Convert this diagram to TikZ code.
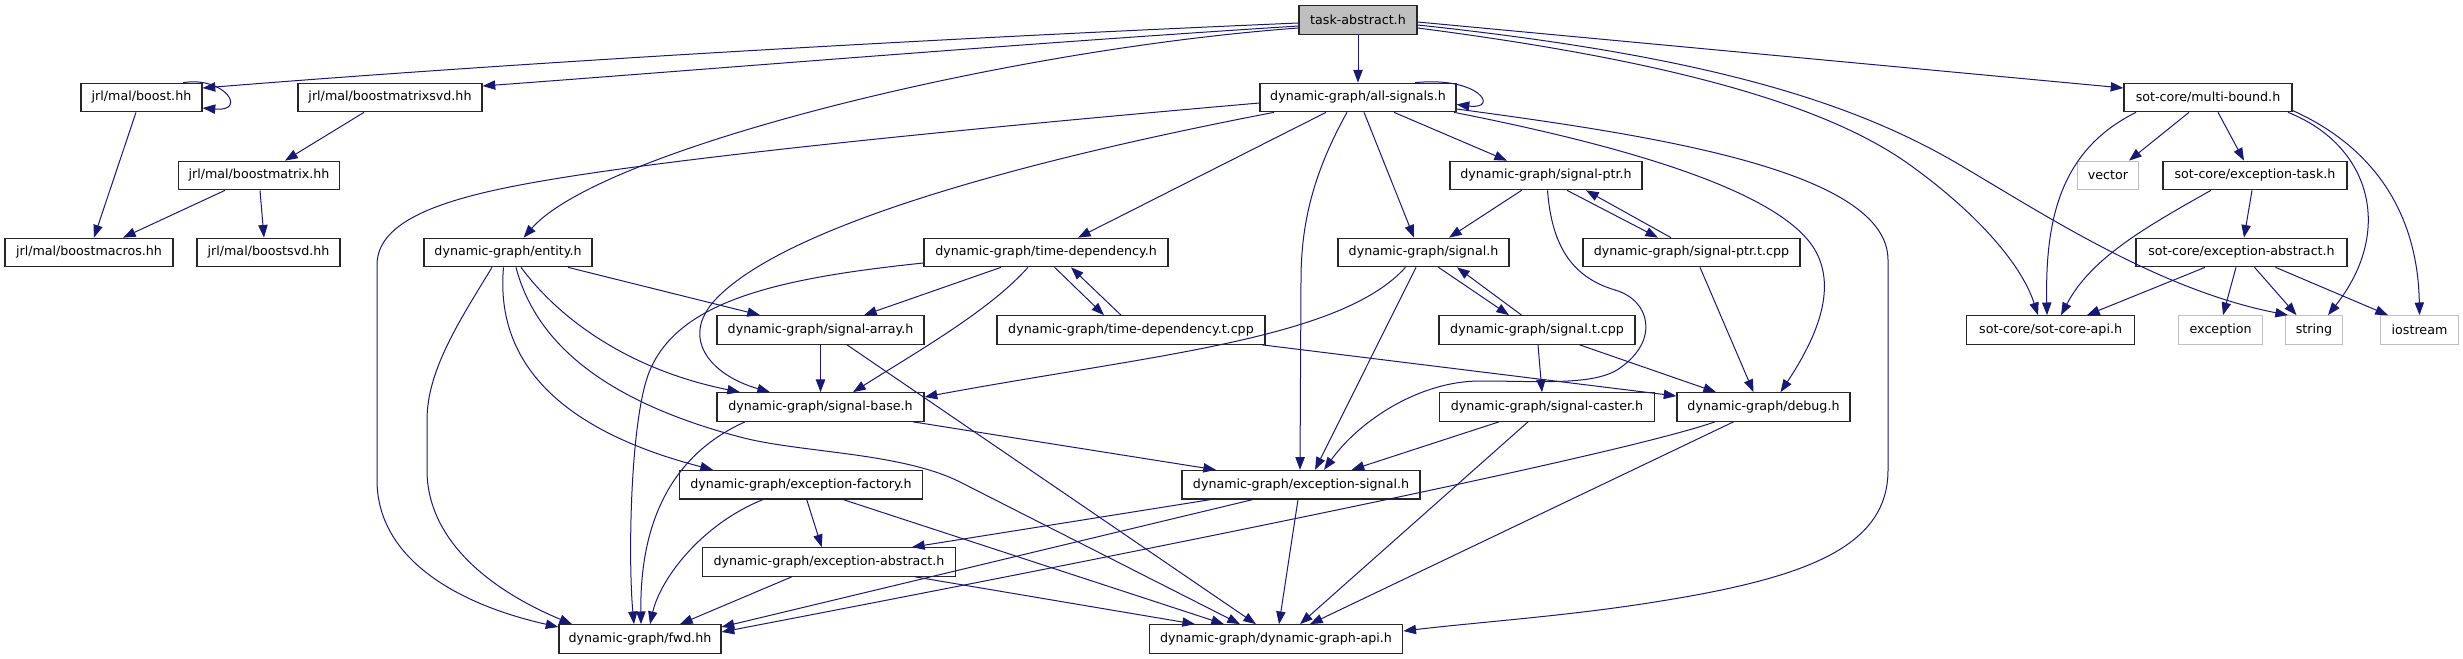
\documentclass[tikz,border=0pt]{standalone}
\usepackage{fontspec}
\setmainfont{DejaVu Sans}
\usetikzlibrary{arrows.meta}
\definecolor{edgec}{HTML}{191970}
\definecolor{greyf}{HTML}{BFBFBF}
\tikzset{
  box/.style={draw=black!85, line width=0.9pt, inner sep=0pt, minimum height=28.5*0.75pt,
    font=\fontsize{9.5}{11}\selectfont, text=black},
  b/.style={box, minimum width=#1*0.75pt},
  gb/.style={box, draw=greyf, minimum width=#1*0.75pt},
  e/.style={draw=edgec, line width=0.75pt, -{Triangle[length=9.5pt,width=7pt]}}
}
\begin{document}
\begin{tikzpicture}[x=0.75pt,y=-0.75pt]
\useasboundingbox (0,0) rectangle (2463,659);
% nodes
\node[b=118, fill=greyf] (task) at (1358,20) {task-abstract.h};
\node[b=121] (boost) at (141.5,97.5) {jrl/mal/boost.hh};
\node[b=184] (bmsvd) at (390,97.5) {jrl/mal/boostmatrixsvd.hh};
\node[b=196] (allsig) at (1358,97.5) {dynamic-graph/all-signals.h};
\node[b=168] (multib) at (2208,97.5) {sot-core/multi-bound.h};
\node[b=161] (bmatrix) at (259,175.5) {jrl/mal/boostmatrix.hh};
\node[b=192] (sigptr) at (1546,175.5) {dynamic-graph/signal-ptr.h};
\node[gb=61] (vector) at (2108,175.5) {vector};
\node[b=184] (exctask) at (2255,175.5) {sot-core/exception-task.h};
\node[b=168] (bmacros) at (89,252.5) {jrl/mal/boostmacros.hh};
\node[b=143] (bsvd) at (268.5,252.5) {jrl/mal/boostsvd.hh};
\node[b=168] (entity) at (508,252.5) {dynamic-graph/entity.h};
\node[b=244] (timedep) at (1046,252.5) {dynamic-graph/time-dependency.h};
\node[b=171] (signal) at (1423.5,252.5) {dynamic-graph/signal.h};
\node[b=217] (sigptrt) at (1691.5,252.5) {dynamic-graph/signal-ptr.t.cpp};
\node[b=211] (sotexcabs) at (2241.5,252.5) {sot-core/exception-abstract.h};
\node[b=207] (sigarray) at (820.5,330) {dynamic-graph/signal-array.h};
\node[b=268] (timedept) at (1131,330) {dynamic-graph/time-dependency.t.cpp};
\node[b=196] (signalt) at (1537,330) {dynamic-graph/signal.t.cpp};
\node[b=168] (sotapi) at (2050.6,330) {sot-core/sot-core-api.h};
\node[gb=84] (exception) at (2220.6,330) {exception};
\node[gb=57.6] (string) at (2314,330) {string};
\node[gb=78.5] (iostream) at (2419.5,330) {iostream};
\node[b=207] (sigbase) at (820.5,407) {dynamic-graph/signal-base.h};
\node[b=215] (sigcaster) at (1547,407) {dynamic-graph/signal-caster.h};
\node[b=173] (debug) at (1763.5,407) {dynamic-graph/debug.h};
\node[b=243] (excfact) at (801,484.7) {dynamic-graph/exception-factory.h};
\node[b=238] (excsig) at (1301,484.7) {dynamic-graph/exception-signal.h};
\node[b=253] (dgexcabs) at (829,562) {dynamic-graph/exception-abstract.h};
\node[b=162] (fwd) at (640,639) {dynamic-graph/fwd.hh};
\node[b=253.5] (dgapi) at (1276,639) {dynamic-graph/dynamic-graph-api.h};
% edges from task-abstract.h
\draw[e] ([shift={(0,3)}]task.west) .. controls (900,40) and (500,64) .. ([shift={(0,-9.5)}]boost.east);
\draw[e] ([shift={(0,6)}]task.west) .. controls (1000,45) and (700,70) .. ([shift={(0,-11.5)}]bmsvd.east);
\draw[e] ([shift={(0,8)}]task.west) .. controls (1000,50) and (600,150) .. ([shift={(15.6,0)}]entity.north);
\draw[e] (task) -- (allsig);
\draw[e] ([shift={(0,2)}]task.east) -- ([shift={(0,-9.5)}]multib.west);
\draw[e] ([shift={(0,5)}]task.east) .. controls (1700,55) and (1850,100) .. (1960,165) .. controls (2048,217) and (2160,290) .. ([shift={(-26,0)}]string.north);
\draw[e] ([shift={(0,8)}]task.east) .. controls (1650,58) and (1820,100) .. (1910,165) .. controls (1970,208) and (2020,260) .. ([shift={(-12.6,0)}]sotapi.north);
% sot-core
\draw[e] ([shift={(-72,0)}]multib.south) .. controls (2060,150) and (2045,220) .. ([shift={(-3.6,0)}]sotapi.north);
\draw[e] ([shift={(-19,0)}]multib.south) -- ([shift={(21,0)}]vector.north);
\draw[e] ([shift={(10,0)}]multib.south) -- ([shift={(-11,0)}]exctask.north);
\draw[e] ([shift={(80,0)}]multib.south) .. controls (2370,145) and (2395,230) .. ([shift={(14,0)}]string.north);
\draw[e] ([shift={(0,13)}]multib.east) .. controls (2380,150) and (2418,220) .. (iostream.north);
\draw[e] ([shift={(-44,0)}]exctask.south) .. controls (2140,230) and (2090,260) .. ([shift={(10.4,0)}]sotapi.north);
\draw[e] ([shift={(-3,0)}]exctask.south) -- ([shift={(2.5,0)}]sotexcabs.north);
\draw[e] ([shift={(-36.5,0)}]sotexcabs.south) -- ([shift={(36.4,0)}]sotapi.north);
\draw[e] ([shift={(-5.5,0)}]sotexcabs.south) -- ([shift={(2.4,0)}]exception.north);
\draw[e] ([shift={(13,0)}]sotexcabs.south) -- ([shift={(-17.5,0)}]string.north);
\draw[e] ([shift={(34,0)}]sotexcabs.south) -- ([shift={(-31.5,0)}]iostream.north);
% jrl/mal
\draw[e] ([shift={(41.5,0)}]boost.north) .. controls (225,76) and (248,112) .. ([shift={(0,10.5)}]boost.east);
\draw[e] ([shift={(-5.5,0)}]boost.south) -- ([shift={(5,0)}]bmacros.north);
\draw[e] ([shift={(-26,0)}]bmsvd.south) -- ([shift={(26,0)}]bmatrix.north);
\draw[e] ([shift={(-34,0)}]bmatrix.south) -- ([shift={(34,0)}]bmacros.north);
\draw[e] ([shift={(1,0)}]bmatrix.south) -- ([shift={(-4.5,0)}]bsvd.north);
% all-signals.h
\draw[e] ([shift={(57,0)}]allsig.north) .. controls (1480,76) and (1500,110) .. ([shift={(0,7)}]allsig.east);
\draw[e] ([shift={(0,5.5)}]allsig.west) .. controls (950,130) and (650,160) .. (520,185) .. controls (430,202) and (377,225) .. (377,265) -- (377,480) .. controls (377,560) and (460,605) .. ([shift={(0,-12)}]fwd.west);
\draw[e] ([shift={(-84,0)}]allsig.south) .. controls (1000,165) and (780,230) .. (715,300) .. controls (680,338) and (710,375) .. ([shift={(-50.5,0)}]sigbase.north);
\draw[e] ([shift={(-32,0)}]allsig.south) -- ([shift={(32,0)}]timedep.north);
\draw[e] ([shift={(-11,0)}]allsig.south) .. controls (1315,170) and (1301,220) .. (1301,280) -- ([shift={(-1,0)}]excsig.north);
\draw[e] ([shift={(6,0)}]allsig.south) -- ([shift={(-9.5,0)}]signal.north);
\draw[e] ([shift={(36,0)}]allsig.south) -- ([shift={(-39,0)}]sigptr.north);
\draw[e] ([shift={(96,0)}]allsig.south) .. controls (1620,145) and (1780,190) .. (1815,250) .. controls (1838,290) and (1815,340) .. ([shift={(17,0)}]debug.north);
\draw[e] ([shift={(0,11.5)}]allsig.east) .. controls (1650,135) and (1888,170) .. (1888,260) -- (1888,470) .. controls (1888,550) and (1800,580) .. (1642,604) .. controls (1560,616.5) and (1480,622) .. ([shift={(0,-8)}]dgapi.east);
% time-dependency.h
\draw[e] ([shift={(0,10.5)}]timedep.west) .. controls (780,278) and (680,300) .. (650,370) .. controls (630,417) and (628,560) .. ([shift={(-6,0)}]fwd.north);
\draw[e] ([shift={(-45,0)}]timedep.south) -- ([shift={(43.5,0)}]sigarray.north);
\draw[e] ([shift={(-18,0)}]timedep.south) .. controls (990,310) and (920,350) .. ([shift={(32.5,0)}]sigbase.north);
\draw[e] ([shift={(8.6,0)}]timedep.south) -- ([shift={(-27,0)}]timedept.north);
\draw[e] ([shift={(-10,0)}]timedept.north) -- ([shift={(25,0)}]timedep.south);
\draw[e] ([shift={(131,0)}]timedept.south) -- ([shift={(0,-11)}]debug.west);
% entity.h
\draw[e] ([shift={(-16,0)}]entity.south) .. controls (460,320) and (427,370) .. (427,420) -- (427,470) .. controls (427,540) and (490,590) .. ([shift={(-68,0)}]fwd.north);
\draw[e] ([shift={(-4.5,0)}]entity.south) .. controls (498,330) and (520,420) .. ([shift={(-88,0)}]excfact.north);
\draw[e] ([shift={(8,0)}]entity.south) .. controls (535,340) and (600,400) .. (740,437) .. controls (800,453) and (900,452) .. (960,482) -- ([shift={(-36,0)}]dgapi.north);
\draw[e] ([shift={(13,0)}]entity.south) .. controls (560,320) and (630,370) .. ([shift={(-80.5,0)}]sigbase.north);
\draw[e] ([shift={(60,0)}]entity.south) -- ([shift={(-60.5,0)}]sigarray.north);
% signal-ptr.h
\draw[e] ([shift={(-24.4,0)}]sigptr.south) -- ([shift={(25.5,0)}]signal.north);
\draw[e] ([shift={(21,0)}]sigptr.south) -- ([shift={(-33.5,0)}]sigptrt.north);
\draw[e] ([shift={(-20.5,0)}]sigptrt.north) -- ([shift={(40,0)}]sigptr.south);
\draw[e] ([shift={(1.5,0)}]sigptr.south) .. controls (1552,250) and (1575,278) .. (1615,290) .. controls (1650,300) and (1660,340) .. (1620,368) .. controls (1595,386) and (1540,381) .. (1480,381) .. controls (1420,381) and (1360,420) .. ([shift={(23,0)}]excsig.north);
\draw[e] ([shift={(8.5,0)}]sigptrt.south) -- ([shift={(-10,0)}]debug.north);
% signal.h
\draw[e] ([shift={(-18,0)}]signal.south) .. controls (1340,340) and (1150,355) .. ([shift={(0,-10)}]sigbase.east);
\draw[e] ([shift={(-7.5,0)}]signal.south) -- ([shift={(14,0)}]excsig.north);
\draw[e] ([shift={(15,0)}]signal.south) -- ([shift={(-28,0)}]signalt.north);
\draw[e] ([shift={(-15.4,0)}]signalt.north) -- ([shift={(33.5,0)}]signal.south);
\draw[e] ([shift={(1,0)}]signalt.south) -- ([shift={(-5,0)}]sigcaster.north);
\draw[e] ([shift={(42.6,0)}]signalt.south) -- ([shift={(-47.5,0)}]debug.north);
% signal-caster.h, debug.h
\draw[e] ([shift={(-48,0)}]sigcaster.south) -- ([shift={(50.6,0)}]excsig.north);
\draw[e] ([shift={(-19,0)}]sigcaster.south) -- ([shift={(24,0)}]dgapi.north);
\draw[e] ([shift={(-48.5,0)}]debug.south) .. controls (1620,455) and (1150,550) .. ([shift={(0,-7)}]fwd.east);
\draw[e] ([shift={(-30,0)}]debug.south) -- ([shift={(34,0)}]dgapi.north);
% exception-signal.h
\draw[e] ([shift={(-90,0)}]excsig.south) -- ([shift={(83,0)}]dgexcabs.north);
\draw[e] ([shift={(-48,0)}]excsig.south) -- ([shift={(0,-12)}]fwd.east);
\draw[e] ([shift={(-3,0)}]excsig.south) -- ([shift={(3,0)}]dgapi.north);
% signal-base.h, signal-array.h
\draw[e] ([shift={(92.5,0)}]sigbase.south) -- ([shift={(-85,0)}]excsig.north);
\draw[e] ([shift={(-75.5,0)}]sigbase.south) .. controls (660,460) and (640,540) .. ([shift={(1,0)}]fwd.north);
\draw[e] (sigarray) -- (sigbase);
\draw[e] ([shift={(26.5,0)}]sigarray.south) -- ([shift={(-20,0)}]dgapi.north);
% exception-factory.h, exception-abstract.h
\draw[e] ([shift={(-38,0)}]excfact.south) .. controls (700,525) and (660,580) .. ([shift={(10,0)}]fwd.north);
\draw[e] ([shift={(5.7,0)}]excfact.south) -- ([shift={(-7.3,0)}]dgexcabs.north);
\draw[e] ([shift={(42,0)}]excfact.south) -- ([shift={(-52,0)}]dgapi.north);
\draw[e] ([shift={(-37.3,0)}]dgexcabs.south) -- ([shift={(40,0)}]fwd.north);
\draw[e] ([shift={(86,0)}]dgexcabs.south) -- ([shift={(-81,0)}]dgapi.north);
\end{tikzpicture}
\end{document}
